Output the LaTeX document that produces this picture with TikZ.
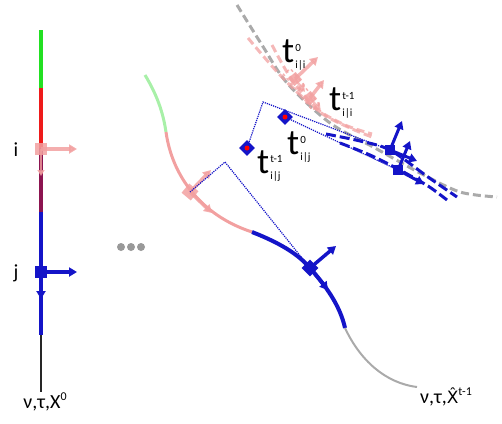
\documentclass[tikz,border=0pt]{standalone}
\usepackage{fontspec}
\setmainfont{Carlito}
\newfontfamily\dejavu{DejaVu Sans}
\usetikzlibrary{arrows.meta}
\definecolor{cgreen}{HTML}{22E022}
\definecolor{cred}{HTML}{EE1A1A}
\definecolor{cplum}{HTML}{8C1450}
\definecolor{cblue}{HTML}{1414C8}
\definecolor{cpink}{HTML}{F2A0A0}
\definecolor{clgreen}{HTML}{A8F0A8}
\definecolor{cgray}{HTML}{AAAAAA}
\definecolor{cdots}{HTML}{999999}
\newcommand{\tlab}[2]{{\fontsize{36}{36}\selectfont t}\hspace{1pt}\raisebox{-6pt}{\fontsize{11}{11}\selectfont\shortstack[l]{#1\\[5pt]#2}}}
\newcommand{\suplab}[1]{\raisebox{8pt}{\fontsize{12}{12}\selectfont #1}}
\newcommand{\hatX}{{\dejavu\fontsize{17}{17}\selectfont X^^^^0302}}
\begin{document}
\begin{tikzpicture}[x=1pt,y=-1pt,
  parr/.style={draw=cpink, line width=3.5pt, -{Triangle[length=8pt,width=9pt]}},
  barr/.style={draw=cblue, line width=3.5pt, -{Triangle[length=8pt,width=9pt]}},
  psq/.style={fill=cpink, minimum size=10pt, inner sep=0pt},
  bsq/.style={fill=cblue, minimum size=10pt, inner sep=0pt},
  dotl/.style={draw=cblue, densely dotted, line width=1.2pt},
  diam/.style={fill=cblue, minimum size=11pt, inner sep=0pt, rotate=45},
  rdot/.style={circle, fill=red, minimum size=5pt, inner sep=0pt},
  lbl/.style={inner sep=0pt, anchor=base west},
  txt/.style={inner sep=0pt, font=\fontsize{20}{20}\selectfont},
  dotn/.style={circle, fill=cdots, minimum size=8pt, inner sep=0pt}]
\useasboundingbox (0,0) rectangle (502,423);

% ---- left vertical chain
\draw[cgreen, line width=4pt] (41,30) -- (41,88);
\draw[cred, line width=4pt] (41,88) -- (41,148);
\draw[cplum, line width=4pt] (41,148) -- (41,212);
\draw[cblue, line width=4pt] (41,212) -- (41,335);
\draw[black!85, line width=2pt] (41,335) -- (41,392);

\node[psq, opacity=.85, minimum size=12pt] (li) at (41,149) {};
\coordinate (liR) at (77,149);
\coordinate (liD) at (41,176);
\draw[parr, opacity=.85] (li.center) -- (liR);
\draw[draw=cpink, line width=2pt, -{Triangle[length=6pt,width=7pt]}, opacity=.8] (li.center) -- (liD);

\node[bsq, minimum size=12pt] (lj) at (41,272) {};
\coordinate (ljR) at (77,272);
\coordinate (ljD) at (41,299);
\draw[barr] (lj.center) -- (ljR);
\draw[barr] (lj.center) -- (ljD);

\node[txt] (ti) at (16,150) {i};
\node[txt] (tj) at (16,273) {j};
\node[txt] (lab0) at (45,402) {ν,τ,X\suplab{0}};

% ---- dots
\node[dotn] (d1) at (121,247) {};
\node[dotn] (d2) at (131,247) {};
\node[dotn] (d3) at (141,247) {};

% ---- middle trajectory
\draw[clgreen, line width=3pt] (145,75) .. controls (157,95) and (163,112) .. (166,132);
\draw[cpink, line width=3pt] (166,132) .. controls (172,175) and (200,215) .. (252,232);
\draw[cblue, line width=4pt] (252,232) .. controls (280,243) and (298,254) .. (310,268)
   .. controls (325,285) and (340,305) .. (345,328);
\draw[cgray, line width=2pt] (345,328) .. controls (360,360) and (385,383) .. (417,387);

\node[psq, rotate=-40, opacity=.85, minimum size=12pt] (pn) at (190,192) {};
\coordinate (pnU) at (211,170);
\coordinate (pnD) at (212,213);
\draw[parr, opacity=.85] (pn.center) -- (pnU);
\draw[parr, opacity=.85] (pn.center) -- (pnD);

\node[bsq, rotate=-45, minimum size=12pt] (bn) at (310,268) {};
\coordinate (bnU) at (336,246);
\coordinate (bnD) at (328,290);
\draw[barr] (bn.center) -- (bnU);
\draw[barr] (bn.center) -- (bnD);

\coordinate (peak1) at (225,162);
\draw[dotl] (pn.center) -- (peak1) -- (bn.center);

% ---- upper right cluster
\draw[cgray, line width=3pt, dash pattern=on 8pt off 4pt] plot[smooth] coordinates
  {(237,5) (262,45) (287,83) (330,123) (375,148) (420,173) (460,192) (497,197)};
\draw[cpink, line width=3pt, dash pattern=on 8pt off 4pt, opacity=.75] plot[smooth] coordinates
  {(248,38) (280,75) (315,108) (345,125) (372,134)};
\draw[cpink, line width=3pt, dash pattern=on 8pt off 4pt, opacity=.75] plot[smooth] coordinates
  {(272,45) (292,80) (320,112) (350,128) (372,137)};

\node[draw=cpink, dashed, line width=1.5pt, minimum width=22pt, minimum height=9pt, rotate=-50, opacity=.8] (pr1) at (294,80) {};
\node[draw=cpink, dashed, line width=1.5pt, minimum width=22pt, minimum height=9pt, rotate=-50, opacity=.8] (pr2) at (309,99) {};
\node[psq, rotate=-50, opacity=.85] (p1) at (295,79) {};
\node[psq, rotate=-50, opacity=.85] (p2) at (310,98) {};
\coordinate (p1U) at (318,57);
\coordinate (p2U) at (324,80);
\coordinate (p1D) at (305,92);
\coordinate (p2D) at (321,111);
\draw[parr, opacity=.8] (p1.center) -- (p1U);
\draw[parr, opacity=.8] (p2.center) -- (p2U);
\draw[parr, line width=2.5pt, opacity=.7] (p1.center) -- (p1D);
\draw[parr, line width=2.5pt, opacity=.7] (p2.center) -- (p2D);

\draw[cblue, line width=3pt, dash pattern=on 10pt off 4pt] plot[smooth] coordinates
  {(326,134) (360,141) (390,150) (428,177) (457,197)};
\draw[cblue, line width=3pt, dash pattern=on 10pt off 4pt] plot[smooth] coordinates
  {(340,143) (370,155) (398,169) (428,186) (447,200)};

% dotted lines from markers
\node[diam] (mA) at (247,148) {};
\node[diam] (mB) at (285,117) {};
\node[bsq] (nA) at (390,150) {};
\node[bsq] (nB) at (398,170) {};
\coordinate (peak2) at (263,102);
\draw[dotl] (mA.center) -- (peak2) -- (nA.center);
\draw[dotl] (mB.center) -- (nB.center);
\node[rdot] (rA) at (mA) {};
\node[rdot] (rB) at (mB) {};

\coordinate (nAU) at (402,121);
\coordinate (nAR) at (417,161);
\coordinate (nBU) at (410,141);
\coordinate (nBR) at (424,184);
\draw[barr, line width=3pt] (nA.center) -- (nAU);
\draw[barr, line width=3pt] (nA.center) -- (nAR);
\draw[barr, line width=3pt] (nB.center) -- (nBU);
\draw[barr, line width=3pt] (nB.center) -- (nBR);

% ---- labels
\node[lbl] (l1) at (282,62) {\tlab{0}{i|i}};
\node[lbl] (l2) at (329,110) {\tlab{t-1}{i|i}};
\node[lbl] (l3) at (257,173) {\tlab{t-1}{i|j}};
\node[lbl] (l4) at (287,154) {\tlab{0}{i|j}};
\node[txt] (labT) at (446,397) {ν,τ,\hatX\suplab{t-1}};
\end{tikzpicture}
\end{document}
